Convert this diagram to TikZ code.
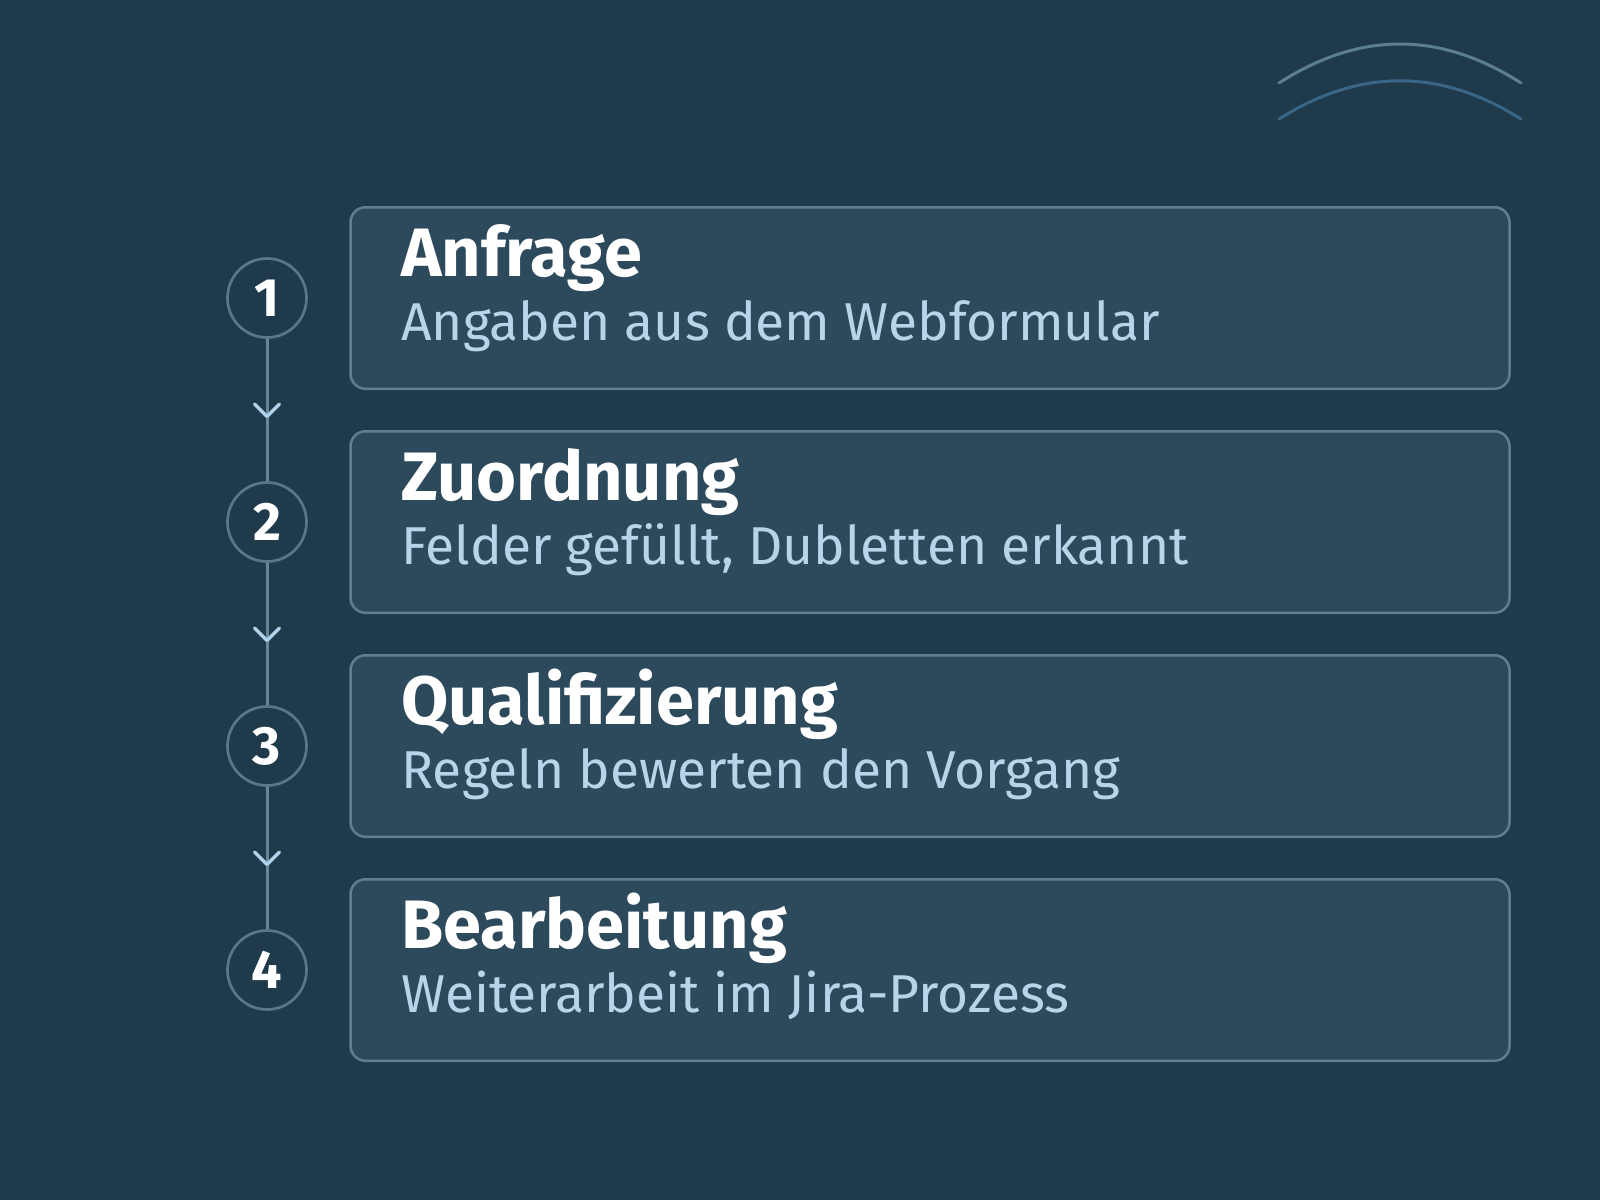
\documentclass[tikz,border=0pt]{standalone}
\usepackage{fontspec}
\setmainfont{Fira Sans}
\usepackage{tikz}
\usetikzlibrary{calc,positioning}

\definecolor{bgdark}{HTML}{1F3A4A}
\definecolor{boxfill}{HTML}{2C4A5C}
\definecolor{boxline}{HTML}{5E7E92}
\definecolor{ringline}{HTML}{5A7688}
\definecolor{stemline}{HTML}{6A8597}
\definecolor{chevblue}{HTML}{B0D2EA}
\definecolor{subblue}{HTML}{B8D4E8}
\definecolor{arcone}{HTML}{5B7F91}
\definecolor{arctwo}{HTML}{3A6686}

\begin{document}
\begin{tikzpicture}[x=1pt,y=-1pt,
  stepbox/.style={draw=boxline, fill=boxfill, line width=2.5pt, rounded corners=15pt,
    minimum width=1159pt, minimum height=181.5pt, inner sep=0pt},
  ring/.style={circle, draw=ringline, fill=bgdark, line width=2.7pt, minimum size=79pt,
    inner sep=0pt, text=white, font=\fontsize{54}{54}\selectfont\bfseries},
  titletext/.style={anchor=base west, inner sep=0pt, text=white,
    font=\fontsize{68.5}{68.5}\selectfont\bfseries},
  subtext/.style={anchor=base west, inner sep=0pt, text=subblue,
    font=\fontsize{53.3}{53.3}\selectfont},
  stem/.style={draw=stemline, line width=3pt},
  chev/.style={draw=chevblue, line width=3.4pt, line cap=round, line join=round}]

  %% Background and page size
  \fill[bgdark] (0,0) rectangle (1600,1200);
  \useasboundingbox (0,0) rectangle (1600,1200);

  %% Two arcs in the top right corner
  \draw[arcone, line width=3pt, line cap=round] (1279,83) .. controls (1360,31) and (1440,31) .. (1521,83);
  \draw[arctwo, line width=3pt, line cap=round] (1279,119) .. controls (1360,68) and (1440,68) .. (1521,119);

  %% Boxes, numbered rings and their texts
  \foreach \n/\title/\sub [count=\i from 0] in {
    1/Anfrage/{Angaben aus dem Webformular},
    2/Zuordnung/{Felder gefüllt, Dubletten erkannt},
    3/Qualifizierung/{Regeln bewerten den Vorgang},
    4/Bearbeitung/{Weiterarbeit im Jira-Prozess}}
  {
    \node[stepbox] (BOX\n) at (930, 298+224*\i) {};
    \node[ring] (NUM\n) at (267, 298+224*\i) {\n};
    \node[titletext] (TTL\n) at ($(BOX\n.north west)+(52,70)$) {\title};
    \node[subtext] (SUB\n) at ($(BOX\n.north west)+(52,134)$) {\sub};
  }

  %% Stems between the rings, with a chevron half way
  \foreach \n/\m in {1/2,2/3,3/4}
  {
    \draw[stem] (NUM\n) -- (NUM\m);
    \coordinate (MID\n) at ($(NUM\n)!0.5!(NUM\m)$);
    \draw[chev] ($(MID\n)+(-12.5,-6)$) -- ($(MID\n)+(0,6.5)$) -- ($(MID\n)+(12.5,-6)$);
  }
\end{tikzpicture}
\end{document}
